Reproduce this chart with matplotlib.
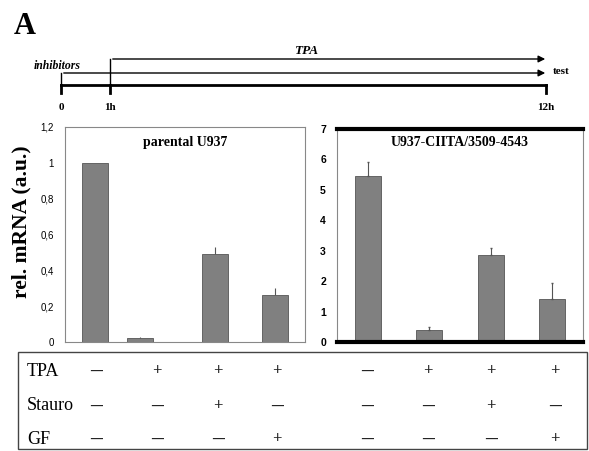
import matplotlib
matplotlib.use("Agg")
import matplotlib.pyplot as plt

# data
conditions = ["ctrl", "TPA", "TPA+Stauro", "TPA+GF"]
parental_vals = [1.0, 0.02, 0.49, 0.26]
parental_err = [0.0, 0.01, 0.04, 0.04]
ciita_vals = [5.45, 0.38, 2.87, 1.42]
ciita_err = [0.45, 0.12, 0.23, 0.51]
left_ticks = [0, 0.2, 0.4, 0.6, 0.8, 1.0, 1.2]
left_ticklabels = ["0", "0,2", "0,4", "0,6", "0,8", "1", "1,2"]
right_ticks = [0, 1, 2, 3, 4, 5, 6, 7]
row_names = ["TPA", "Stauro", "GF"]
row_signs = [
    ["–", "+", "+", "+", "–", "+", "+", "+"],
    ["–", "–", "+", "–", "–", "–", "+", "–"],
    ["–", "–", "–", "+", "–", "–", "–", "+"],
]
time_labels = ["0", "1h", "12h"]

W, H = 589, 451
fig = plt.figure(figsize=(W / 100, H / 100), dpi=100)

serif = "Liberation Serif"
sans = "Liberation Sans"
bar_col = "#808080"


def fbox(l, t, r, b):
    return [l / W, 1 - b / H, (r - l) / W, (b - t) / H]


# overlay for timeline + table, pixel coords
ov = fig.add_axes([0, 0, 1, 1])
ov.set_xlim(0, W)
ov.set_ylim(H, 0)
ov.axis("off")

ov.text(14, 26, "A", fontsize=22, fontweight="bold", family=serif, va="center")

# timeline
ov.plot([61, 546], [85, 85], color="black", lw=2)
for x in (61, 110, 546):
    ov.plot([x, x], [85, 93], color="black", lw=2)
ov.plot([110, 110], [59, 85], color="black", lw=1)
ov.plot([61, 61], [73, 85], color="black", lw=1)
ov.annotate("", xy=(548, 73), xytext=(61, 73),
            arrowprops=dict(arrowstyle="-|>", color="black", lw=1, mutation_scale=10))
ov.annotate("", xy=(548, 59), xytext=(110, 59),
            arrowprops=dict(arrowstyle="-|>", color="black", lw=1, mutation_scale=10))
ov.text(306, 51, "TPA", fontsize=9.5, fontweight="bold", style="italic", family=serif,
        ha="center", va="center")
ov.text(34, 66, "inhibitors", fontsize=8.5, fontweight="bold", style="italic", family=serif,
        ha="left", va="center")
ov.text(553, 71, "test", fontsize=8, fontweight="bold", family=serif, ha="left", va="center")
for x, lab in zip((61, 110, 546), time_labels):
    ov.text(x, 108, lab, fontsize=8, fontweight="bold", family=serif, ha="center", va="center")

ov.text(21, 222, "rel. mRNA (a.u.)", fontsize=15.5, fontweight="bold", family=serif,
        rotation=90, ha="center", va="center")

# table
ov.add_patch(plt.Rectangle((18, 352), 569, 97, fill=False, edgecolor="#444444", lw=1))
row_y = [371, 406, 439]
col_x = [96, 157, 218, 277, 367, 428, 491, 555]
for name, y, signs in zip(row_names, row_y, row_signs):
    ov.text(27, y, name, fontsize=13, family=serif, ha="left", va="center")
    for x, s in zip(col_x, signs):
        fs = 17 if s == "–" else 12
        ov.text(x, y, s, fontsize=fs, fontweight="bold", family=serif, ha="center",
                va="center", color="#222222")

# left panel
ax1 = fig.add_axes(fbox(65, 127, 305, 342))
xl = [0.5, 1.25, 2.5, 3.5]
ax1.bar(xl, parental_vals, width=0.42, color=bar_col, edgecolor="#555555", lw=0.6,
        yerr=[[0] * 4, parental_err], error_kw=dict(ecolor="#555555", elinewidth=0.8, capsize=0))
ax1.set_xlim(0, 4)
ax1.set_ylim(0, 1.2)
ax1.set_yticks(left_ticks)
ax1.set_yticklabels(left_ticklabels, fontsize=7, family=sans)
ax1.set_xticks([])
ax1.tick_params(axis="y", length=0, pad=8)
for sp in ax1.spines.values():
    sp.set_color("#888888")
    sp.set_linewidth(0.8)
ax1.text(0.5, 0.93, "parental U937", transform=ax1.transAxes, fontsize=10, fontweight="bold",
         family=serif, ha="center", va="center")

# right panel
ax2 = fig.add_axes(fbox(337, 129, 583, 342))
xr = [0.5, 1.5, 2.5, 3.5]
ax2.bar(xr, ciita_vals, width=0.42, color=bar_col, edgecolor="#555555", lw=0.6,
        yerr=[[0] * 4, ciita_err], error_kw=dict(ecolor="#555555", elinewidth=0.8, capsize=1))
ax2.set_xlim(0, 4)
ax2.set_ylim(0, 7)
ax2.set_yticks(right_ticks)
ax2.set_yticklabels([str(t) for t in right_ticks], fontsize=7.5, fontweight="bold", family=sans)
ax2.set_xticks([])
ax2.tick_params(axis="y", length=0, pad=8)
for side in ("left", "right"):
    ax2.spines[side].set_color("#888888")
    ax2.spines[side].set_linewidth(0.8)
for side in ("top", "bottom"):
    ax2.spines[side].set_color("black")
    ax2.spines[side].set_linewidth(3)
ax2.text(0.5, 0.935, "U937-CIITA/3509-4543", transform=ax2.transAxes, fontsize=10,
         fontweight="bold", family=serif, ha="center", va="center")

fig.savefig("out.png", dpi=100)
